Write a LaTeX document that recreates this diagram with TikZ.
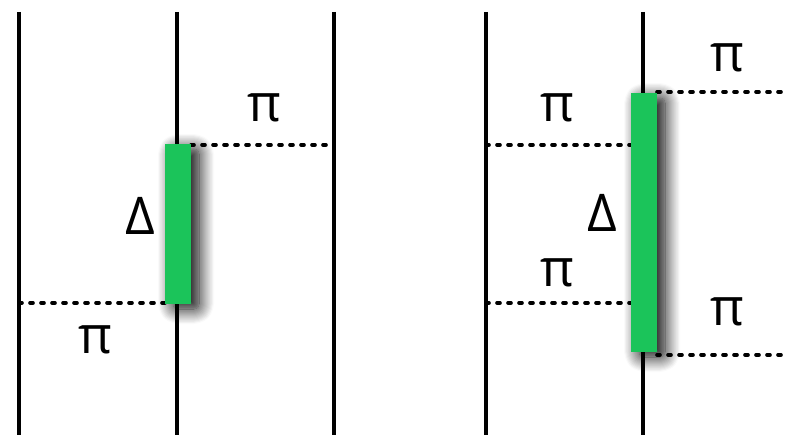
\documentclass[tikz,border=0pt]{standalone}
\usepackage{fontspec}
\setmainfont{Open Sans}
\usetikzlibrary{shadows.blur}
\definecolor{bargreen}{HTML}{1BC45A}
\tikzset{
    wire/.style={line width=3.2pt},
    gap/.style={line width=3.6pt, line cap=round, dash pattern=on 3pt off 8pt},
    barbox/.style={fill=bargreen, minimum width=26pt, inner sep=0pt,
        blur shadow={shadow xshift=8pt, shadow yshift=-5pt, shadow blur radius=15pt,
            shadow blur extra rounding=5pt, shadow blur steps=14, shadow opacity=100}},
    lbl/.style={font=\fontsize{52}{52}\selectfont, inner sep=0pt}
}
\begin{document}
\begin{tikzpicture}[x=1pt, y=-1pt]
    \useasboundingbox (0,0) rectangle (788,435);
    % vertical wires
    \foreach \xw/\nm in {19/a, 177/b, 334/c, 486/d, 643/e}{
        \coordinate (\nm top) at (\xw,12);
        \coordinate (\nm bot) at (\xw,435);
        \draw[wire] (\nm top) -- (\nm bot);
    }
    % bar positions
    \coordinate (barL) at (178,224);
    \coordinate (barR) at (644,222.5);
    % dotted gaps, left pair
    \coordinate (cL1) at (334,145);
    \coordinate (aL1) at (19,303);
    \draw[gap] (191,145) -- (cL1);
    \draw[gap] (aL1) -- (165,303);
    % dotted gaps, right pair
    \coordinate (fR1) at (788,92);
    \coordinate (fR2) at (788,355);
    \coordinate (dR1) at (486,145);
    \coordinate (dR2) at (486,303);
    \draw[gap] (657,92) -- (fR1);
    \draw[gap] (657,355) -- (fR2);
    \draw[gap] (dR1) -- (631,145);
    \draw[gap] (dR2) -- (631,303);
    % bars on top
    \node[barbox, minimum height=160pt] (bL) at (barL) {};
    \node[barbox, minimum height=259pt] (bR) at (barR) {};
    % labels
    \node[lbl] (dL) at (140,216) {Δ};
    \node[lbl] (dR) at (602,213) {Δ};
    \node[lbl] (p1) at (264,108) {π};
    \node[lbl] (p2) at (95,340) {π};
    \node[lbl] (p3) at (727,58) {π};
    \node[lbl] (p4) at (557,108) {π};
    \node[lbl] (p5) at (557,273) {π};
    \node[lbl] (p6) at (727,312) {π};
\end{tikzpicture}
\end{document}
